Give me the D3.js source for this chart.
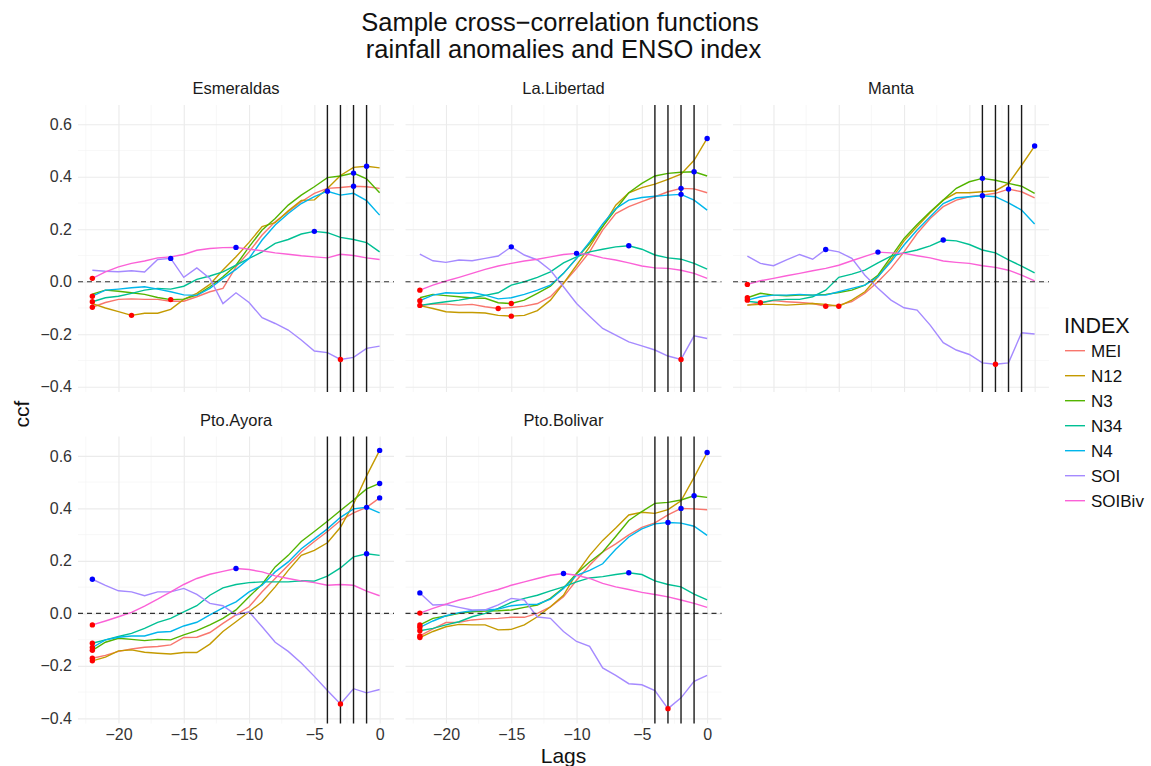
<!DOCTYPE html>
<html>
<head>
<meta charset="utf-8">
<script src="https://cdn.jsdelivr.net/npm/d3@7"></script>
<style>
  body { margin: 0; background: #fff; }
  text { font-family: "Liberation Sans", Arial, Helvetica, sans-serif; }
</style>
</head>
<body>
<svg width="1151" height="766"></svg>
<script>
// lags shown on the x axis
var lags = d3.range(-22, 1);
var indexNames = ['MEI', 'N12', 'N3', 'N34', 'N4', 'SOI', 'SOIBiv'];
var indexColors = ['#F8766D', '#C49A00', '#53B400', '#00C094', '#00B6EB', '#A58AFF', '#FB61D7'];
var stations = ['Esmeraldas', 'La.Libertad', 'Manta', 'Pto.Ayora', 'Pto.Bolivar'];
var markedLags = [-4, -3, -2, -1];
var xTicks = [-20, -15, -10, -5, 0];
var yTicks = [-0.4, -0.2, 0, 0.2, 0.4, 0.6];

// ccf values, lag -22 .. 0
var esmeraldas = {
  MEI:    [-0.097,-0.079,-0.067,-0.065,-0.067,-0.067,-0.074,-0.074,-0.057,-0.038,-0.025,0.057,0.114,0.178,0.229,0.267,0.305,0.337,0.356,0.359,0.364,0.362,0.356],
  N12:    [-0.083,-0.1,-0.114,-0.128,-0.12,-0.12,-0.105,-0.067,-0.044,-0.01,0.045,0.095,0.15,0.21,0.225,0.27,0.31,0.312,0.355,0.405,0.436,0.44,0.434],
  N3:     [-0.047,-0.032,-0.036,-0.042,-0.048,-0.06,-0.068,-0.066,-0.051,-0.019,0.019,0.063,0.133,0.197,0.241,0.292,0.33,0.362,0.397,0.403,0.414,0.392,0.339],
  N34:    [-0.076,-0.061,-0.055,-0.044,-0.032,-0.025,-0.028,-0.017,0.009,0.022,0.038,0.063,0.089,0.114,0.146,0.161,0.182,0.192,0.187,0.169,0.161,0.149,0.114],
  N4:     [-0.055,-0.032,-0.028,-0.023,-0.019,-0.028,-0.038,-0.05,-0.052,-0.025,0.013,0.047,0.089,0.159,0.216,0.26,0.298,0.324,0.345,0.33,0.337,0.309,0.254],
  SOI:    [0.044,0.04,0.038,0.042,0.037,0.085,0.089,0.017,0.053,0.013,-0.083,-0.042,-0.079,-0.137,-0.159,-0.184,-0.222,-0.264,-0.27,-0.296,-0.288,-0.254,-0.245],
  SOIBiv: [0.013,0.038,0.057,0.07,0.079,0.091,0.095,0.104,0.12,0.127,0.13,0.131,0.124,0.118,0.11,0.105,0.099,0.095,0.091,0.105,0.1,0.091,0.085]
};
var laLibertad = {
  MEI:    [-0.091,-0.085,-0.085,-0.089,-0.086,-0.095,-0.102,-0.098,-0.093,-0.083,-0.057,-0.006,0.051,0.114,0.197,0.26,0.286,0.305,0.324,0.343,0.356,0.354,0.339],
  N12:    [-0.091,-0.102,-0.114,-0.117,-0.117,-0.119,-0.128,-0.131,-0.128,-0.11,-0.07,-0.006,0.063,0.133,0.21,0.292,0.339,0.359,0.372,0.39,0.41,0.463,0.546],
  N3:     [-0.061,-0.048,-0.053,-0.057,-0.062,-0.063,-0.08,-0.083,-0.07,-0.044,-0.017,0.032,0.089,0.146,0.21,0.276,0.339,0.375,0.403,0.413,0.417,0.419,0.403],
  N34:    [-0.09,-0.083,-0.076,-0.07,-0.061,-0.052,-0.042,-0.013,0,0.017,0.038,0.072,0.095,0.114,0.124,0.133,0.137,0.124,0.102,0.091,0.086,0.07,0.048],
  N4:     [-0.072,-0.051,-0.042,-0.044,-0.041,-0.051,-0.065,-0.061,-0.048,-0.032,-0.013,0.032,0.089,0.152,0.22,0.279,0.311,0.321,0.326,0.33,0.333,0.311,0.273],
  SOI:    [0.105,0.08,0.074,0.083,0.08,0.089,0.098,0.133,0.102,0.083,0.044,-0.019,-0.083,-0.131,-0.178,-0.203,-0.229,-0.244,-0.26,-0.283,-0.296,-0.206,-0.216],
  SOIBiv: [-0.032,-0.013,0.003,0.017,0.032,0.047,0.06,0.07,0.079,0.086,0.095,0.104,0.108,0.104,0.091,0.083,0.072,0.06,0.053,0.051,0.044,0.032,0.013]
};
var manta = {
  MEI:    [-0.089,-0.08,-0.072,-0.076,-0.079,-0.083,-0.093,-0.089,-0.076,-0.044,0,0.051,0.114,0.184,0.241,0.286,0.311,0.324,0.33,0.337,0.353,0.343,0.32],
  N12:    [-0.089,-0.086,-0.086,-0.089,-0.086,-0.083,-0.086,-0.093,-0.07,-0.038,0.019,0.083,0.156,0.21,0.263,0.311,0.339,0.339,0.343,0.347,0.375,0.444,0.517],
  N3:     [-0.061,-0.044,-0.051,-0.053,-0.051,-0.051,-0.048,-0.041,-0.032,-0.013,0.025,0.095,0.165,0.218,0.267,0.311,0.356,0.381,0.394,0.387,0.375,0.364,0.337],
  N34:    [-0.074,-0.08,-0.07,-0.067,-0.067,-0.057,-0.032,0.017,0.029,0.044,0.072,0.098,0.11,0.121,0.137,0.159,0.156,0.142,0.121,0.11,0.083,0.06,0.034],
  N4:     [-0.07,-0.057,-0.051,-0.051,-0.048,-0.051,-0.051,-0.038,-0.025,-0.013,0.019,0.076,0.14,0.197,0.248,0.298,0.32,0.324,0.328,0.324,0.301,0.273,0.22],
  SOI:    [0.098,0.07,0.061,0.083,0.104,0.086,0.123,0.114,0.089,0.025,-0.025,-0.07,-0.099,-0.108,-0.165,-0.232,-0.26,-0.277,-0.309,-0.314,-0.309,-0.194,-0.199],
  SOIBiv: [-0.01,0.004,0.013,0.023,0.032,0.042,0.051,0.063,0.08,0.097,0.113,0.11,0.108,0.099,0.091,0.079,0.074,0.07,0.061,0.055,0.044,0.025,0.003]
};
var ptoAyora = {
  MEI:    [-0.171,-0.16,-0.145,-0.136,-0.129,-0.126,-0.12,-0.092,-0.091,-0.073,-0.038,-0.006,0.025,0.082,0.133,0.183,0.234,0.274,0.312,0.354,0.383,0.404,0.44],
  N12:    [-0.181,-0.167,-0.143,-0.139,-0.148,-0.152,-0.155,-0.149,-0.149,-0.117,-0.069,-0.032,0.006,0.044,0.101,0.164,0.221,0.24,0.269,0.328,0.417,0.524,0.621],
  N3:     [-0.141,-0.11,-0.095,-0.099,-0.104,-0.099,-0.101,-0.082,-0.066,-0.044,-0.019,0.013,0.063,0.111,0.177,0.221,0.274,0.312,0.351,0.392,0.432,0.474,0.495],
  N34:    [-0.114,-0.101,-0.088,-0.076,-0.057,-0.034,-0.019,0.006,0.029,0.069,0.097,0.11,0.117,0.12,0.12,0.12,0.124,0.123,0.142,0.173,0.215,0.227,0.221],
  N4:     [-0.13,-0.101,-0.091,-0.086,-0.086,-0.072,-0.069,-0.048,-0.034,-0.006,0.021,0.044,0.082,0.107,0.158,0.196,0.246,0.284,0.322,0.366,0.398,0.404,0.383],
  SOI:    [0.13,0.107,0.086,0.082,0.067,0.082,0.082,0.095,0.072,0.038,0.029,-0.006,0.006,-0.051,-0.11,-0.145,-0.189,-0.24,-0.294,-0.345,-0.287,-0.303,-0.29],
  SOIBiv: [-0.044,-0.029,-0.013,0.004,0.028,0.054,0.082,0.11,0.133,0.149,0.16,0.171,0.167,0.158,0.143,0.133,0.124,0.117,0.107,0.11,0.107,0.085,0.067]
};
var ptoBolivar = {
  MEI:    [-0.086,-0.059,-0.035,-0.034,-0.025,-0.021,-0.019,-0.015,-0.015,0,0.025,0.063,0.126,0.183,0.234,0.265,0.299,0.328,0.345,0.375,0.4,0.398,0.395],
  N12:    [-0.092,-0.069,-0.051,-0.042,-0.044,-0.044,-0.063,-0.061,-0.044,-0.013,0.025,0.069,0.152,0.221,0.278,0.325,0.375,0.385,0.381,0.395,0.429,0.518,0.613],
  N3:     [-0.044,-0.019,-0.01,0,0.006,0.009,0.01,0.013,0.023,0.032,0.057,0.097,0.152,0.196,0.234,0.293,0.354,0.388,0.419,0.423,0.432,0.448,0.442],
  N34:    [-0.066,-0.057,-0.044,-0.032,-0.013,0,0.019,0.042,0.057,0.069,0.086,0.101,0.12,0.135,0.14,0.148,0.155,0.148,0.124,0.11,0.101,0.073,0.051],
  N4:     [-0.053,-0.029,-0.009,0.003,0.01,0.013,0.016,0.029,0.034,0.035,0.054,0.095,0.145,0.164,0.189,0.244,0.291,0.322,0.341,0.346,0.344,0.332,0.297],
  SOI:    [0.078,0.032,0.034,0.023,0.013,0.013,0.032,0.057,0.051,-0.014,-0.019,-0.069,-0.107,-0.126,-0.208,-0.236,-0.268,-0.272,-0.294,-0.363,-0.322,-0.259,-0.236],
  SOIBiv: [0.001,0.019,0.035,0.051,0.063,0.078,0.091,0.107,0.12,0.133,0.145,0.152,0.145,0.133,0.114,0.101,0.091,0.08,0.072,0.063,0.051,0.038,0.023]
};
var stationData = [esmeraldas, laLibertad, manta, ptoAyora, ptoBolivar];

var svg = d3.select('svg');

// panel layout (facet_wrap, 3 columns)
var panelW = 316, panelH = 287;
var panelLeft = 78, panelStep = 327.5;
var rowTop = [105, 436.6];

var x = d3.scaleLinear().domain([-23.1, 1.1]).range([0, panelW]);
var y = d3.scaleLinear().domain([-0.42, 0.6735]).range([panelH, 0]);
var color = d3.scaleOrdinal().domain(indexNames).range(indexColors);

var line = d3.line()
  .x(function(d) { return x(d.lag); })
  .y(function(d) { return y(d.ccf); });

// title
svg.append('text')
  .attr('x', 560).attr('y', 31)
  .attr('text-anchor', 'middle')
  .style('font-size', '25.5px').style('fill', '#111')
  .text('Sample cross\u2212correlation functions');
svg.append('text')
  .attr('x', 560).attr('y', 57.5)
  .attr('text-anchor', 'middle')
  .attr('xml:space', 'preserve')
  .style('font-size', '25.5px').style('fill', '#111')
  .text(' rainfall anomalies and ENSO index');

stations.forEach(function(name, i) {
  var col = i % 3, row = Math.floor(i / 3);
  var g = svg.append('g')
    .attr('transform', 'translate(' + (panelLeft + col * panelStep) + ',' + rowTop[row] + ')');

  // minor + major grid
  g.selectAll('.minor-x').data(xTicks.map(function(t) { return t - 2.5; }))
    .enter().append('line')
    .attr('x1', d => x(d)).attr('x2', d => x(d))
    .attr('y1', 0).attr('y2', panelH)
    .style('stroke', '#F3F3F3').style('stroke-width', 0.6);
  g.selectAll('.minor-y').data(yTicks.slice(1).map(function(t) { return +(t - 0.1).toFixed(1); }))
    .enter().append('line')
    .attr('x1', 0).attr('x2', panelW)
    .attr('y1', d => y(d)).attr('y2', d => y(d))
    .style('stroke', '#F3F3F3').style('stroke-width', 0.6);

  g.append('g')
    .call(d3.axisBottom(x).tickValues(xTicks).tickSize(panelH).tickFormat(''))
    .call(a => a.select('.domain').remove())
    .selectAll('line').style('stroke', '#EBEBEB').style('stroke-width', 1.1);
  g.append('g')
    .call(d3.axisLeft(y).tickValues(yTicks).tickSize(-panelW).tickFormat(''))
    .call(a => a.select('.domain').remove())
    .selectAll('line').style('stroke', '#EBEBEB').style('stroke-width', 1.1);

  // strip title
  g.append('text')
    .attr('x', panelW / 2).attr('y', -11)
    .attr('text-anchor', 'middle')
    .style('font-size', '16.5px').style('fill', '#1A1A1A')
    .text(name);

  // axis labels
  if (col === 0) {
    var ya = g.append('g')
      .call(d3.axisLeft(y).tickValues(yTicks).tickSize(0).tickPadding(6).tickFormat(d3.format('.1f')));
    ya.select('.domain').remove();
    ya.selectAll('text').style('font-size', '16px').style('fill', '#333')
      .style('font-family', '"Liberation Sans", Arial, sans-serif');
  }
  if (row === 1) {
    var xa = g.append('g')
      .attr('transform', 'translate(0,' + panelH + ')')
      .call(d3.axisBottom(x).tickValues(xTicks).tickSize(0).tickPadding(5).tickFormat(d3.format('d')));
    xa.select('.domain').remove();
    xa.selectAll('text').style('font-size', '16px').style('fill', '#333')
      .style('font-family', '"Liberation Sans", Arial, sans-serif');
  }

  var series = indexNames.map(function(k) {
    return {
      key: k,
      values: lags.map(function(l, j) { return {lag: l, ccf: stationData[i][k][j]}; })
    };
  });

  g.selectAll('.ccf-line').data(series)
    .enter().append('path')
    .attr('class', 'ccf-line')
    .attr('d', d => line(d.values))
    .style('fill', 'none')
    .style('stroke', d => color(d.key))
    .style('stroke-width', 1.4);

  g.append('line')
    .attr('x1', 0).attr('x2', panelW)
    .attr('y1', y(0)).attr('y2', y(0))
    .style('stroke', '#333').style('stroke-width', 1.2)
    .style('stroke-dasharray', '5,4');

  g.selectAll('.vline').data(markedLags)
    .enter().append('line')
    .attr('x1', d => x(d)).attr('x2', d => x(d))
    .attr('y1', 0).attr('y2', panelH)
    .style('stroke', '#1a1a1a').style('stroke-width', 1.4);

  // min (red) and max (blue) of each series
  var extremes = [];
  series.forEach(function(s) {
    extremes.push({p: s.values[d3.minIndex(s.values, v => v.ccf)], c: 'red'});
    extremes.push({p: s.values[d3.maxIndex(s.values, v => v.ccf)], c: 'blue'});
  });
  g.selectAll('.extreme').data(extremes)
    .enter().append('circle')
    .attr('cx', d => x(d.p.lag)).attr('cy', d => y(d.p.ccf))
    .attr('r', 2.7)
    .style('fill', d => d.c);
});

// axis titles
svg.append('text')
  .attr('x', 563.5).attr('y', 763)
  .attr('text-anchor', 'middle')
  .style('font-size', '21px').style('fill', '#111')
  .text('Lags');
svg.append('text')
  .attr('transform', 'translate(29,414) rotate(-90)')
  .attr('text-anchor', 'middle')
  .style('font-size', '21px').style('fill', '#111')
  .text('ccf');

// legend
var legend = svg.append('g').attr('transform', 'translate(1064,0)');
legend.append('text')
  .attr('x', 0).attr('y', 332.5)
  .style('font-size', '21.5px').style('fill', '#111')
  .text('INDEX');
var item = legend.selectAll('.item').data(indexNames)
  .enter().append('g')
  .attr('transform', (d, i) => 'translate(0,' + (350.7 + i * 25) + ')');
item.append('line')
  .attr('x1', 1).attr('x2', 21)
  .style('stroke', d => color(d)).style('stroke-width', 1.4);
item.append('text')
  .attr('x', 27).attr('y', 6)
  .style('font-size', '17px').style('fill', '#111')
  .text(d => d);
</script>
</body>
</html>
